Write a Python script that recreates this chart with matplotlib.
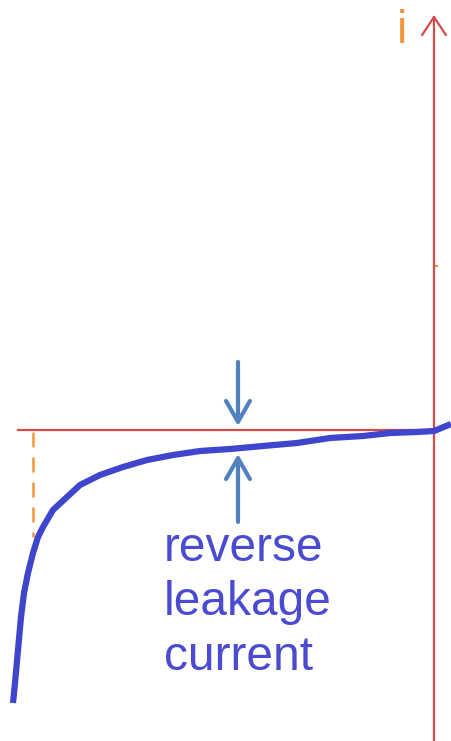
import numpy as np
import matplotlib.pyplot as plt

# curva del diodo (tension, corriente), origen en el eje
v = [-421, -419, -416, -413, -410, -406, -401, -396, -391, -381, -367, -354,
     -334, -311, -287, -261, -234, -204, -171, -137, -104, -71, -44, -17, 0, 17]
i = [-273, -253, -220, -187, -163, -143, -123, -107, -97, -80, -67, -55,
     -45, -37, -30, -25, -21, -19, -16, -13, -8, -6, -3, -2, -1, 6]

v_ruptura = -401          # linea discontinua naranja
i_ruptura = -107
x_flechas = -196          # flechas de corriente de fuga
etiqueta = "reverse\nleakage\ncurrent"

fig = plt.figure(figsize=(4.51, 7.41), dpi=100)
ax = fig.add_axes([0, 0, 1, 1])
ax.set_xlim(-434, 17)
ax.set_ylim(-311, 430)
ax.set_axis_off()

rojo = '#d24a4a'
naranja = '#f5953a'
azul_flecha = '#4f81bd'

# ejes
ax.plot([-416, 0], [0, 0], color=rojo, lw=1.6, zorder=2)
ax.annotate('', xy=(0, 415), xytext=(0, -311),
            arrowprops=dict(arrowstyle='->,head_length=13,head_width=8.6',
                            mutation_scale=1, color=rojo, lw=1.6,
                            shrinkA=0, shrinkB=0))
ax.plot([0, 3], [164, 164], color=naranja, lw=1.5)
ax.text(-32, 399, 'i', color=naranja, fontsize=33, family='Liberation Sans',
        ha='center', va='center')

# linea discontinua
ax.plot([v_ruptura, v_ruptura], [-2, i_ruptura], color=naranja, lw=1.8,
        dashes=(6, 4))

# curva
ax.plot(v, i, color='#3f45cc', lw=4.5, solid_capstyle='butt', zorder=3)

# flechas
ax.annotate('', xy=(x_flechas, 4), xytext=(x_flechas, 68),
            arrowprops=dict(arrowstyle='->,head_length=15,head_width=8.6',
                            mutation_scale=1, color=azul_flecha, lw=3,
                            shrinkA=0, shrinkB=0))
ax.annotate('', xy=(x_flechas, -24), xytext=(x_flechas, -92),
            arrowprops=dict(arrowstyle='->,head_length=15,head_width=8.6',
                            mutation_scale=1, color=azul_flecha, lw=3,
                            shrinkA=0, shrinkB=0))

ax.text(-270, -96, etiqueta, color='#4b4bd2', fontsize=34.5,
        family='Liberation Sans', ha='left', va='top', linespacing=1.27)

fig.savefig('out.png', dpi=100)
